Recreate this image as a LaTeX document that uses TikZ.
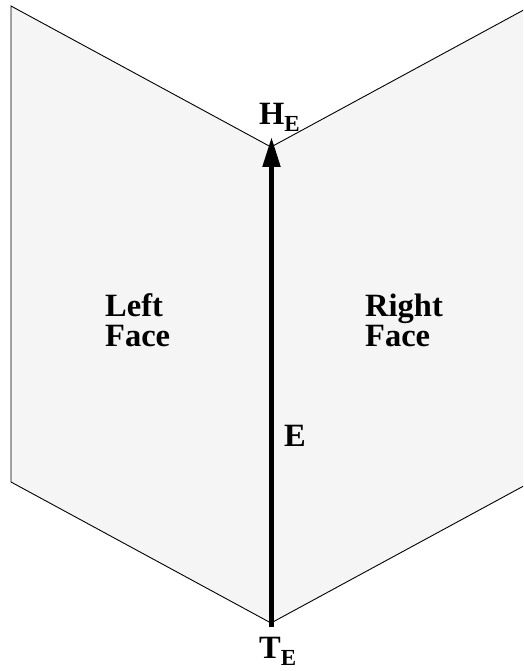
\documentclass[tikz,border=0pt]{standalone}
\usepackage{fontspec}
\setmainfont{Liberation Serif}
\usetikzlibrary{arrows.meta}
\definecolor{facegray}{HTML}{F5F5F5}
\tikzset{
  face/.style={draw=black, line width=0.9pt, fill=facegray, line join=miter},
  lbl/.style={inner sep=0pt, font=\fontsize{32.5}{30}\selectfont\bfseries, anchor=base west},
  facelbl/.style={lbl, align=left},
  edgearrow/.style={line width=5pt, -{Triangle[length=30pt,width=17pt]}}
}
\newcommand{\subE}{\raisebox{-7pt}{\fontsize{23}{23}\selectfont E}}
\begin{document}
\begin{tikzpicture}[x=1pt,y=-1pt]
  \useasboundingbox (0,0) rectangle (523,671);
  \clip (0,0) rectangle (523,671);
  \coordinate (HV) at (271,147);
  \coordinate (TV) at (271,623);
  \draw[face] (11,6) -- (HV) -- (TV) -- (11,482) -- cycle;
  \draw[face] (HV) -- (531,6) -- (531,482) -- (TV) -- cycle;
  \coordinate (tail) at (271.5,627);
  \coordinate (head) at (271.5,137);
  \draw[edgearrow] (tail) -- (head);
  \node[lbl] (hE) at (259,125) {H\subE};
  \node[lbl] (tE) at (259,658) {T\subE};
  \node[lbl] (E) at (284,446) {E};
  \node[facelbl] (lf) at (105,346) {Left\\Face};
  \node[facelbl] (rf) at (365,346) {Right\\Face};
\end{tikzpicture}
\end{document}
